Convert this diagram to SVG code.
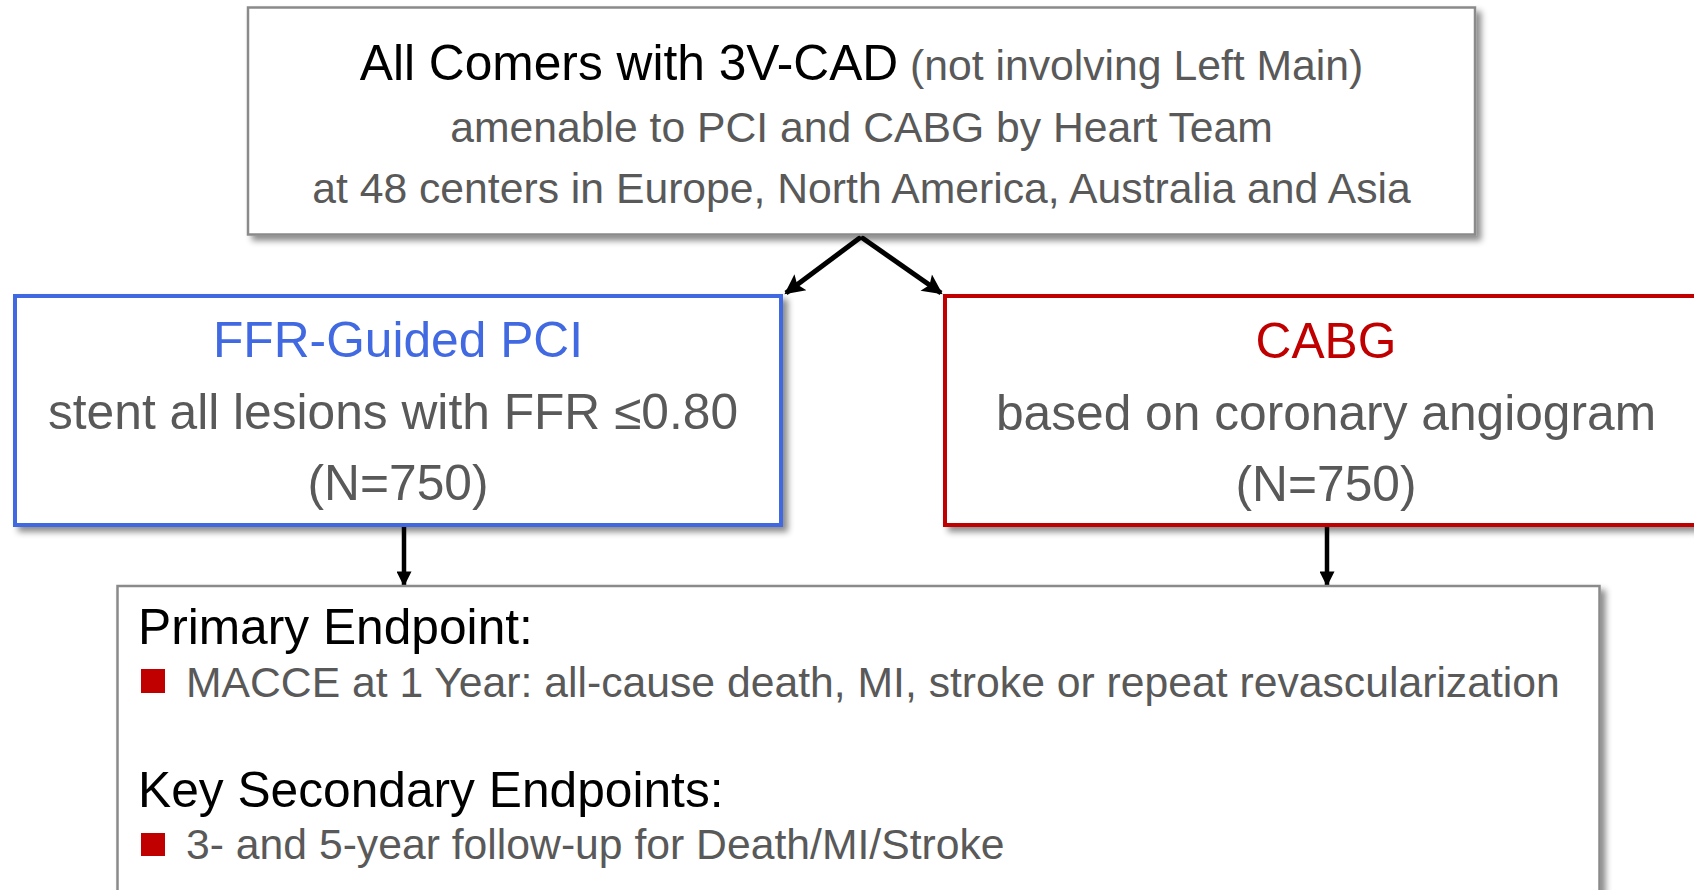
<svg xmlns="http://www.w3.org/2000/svg" width="1694" height="890" viewBox="0 0 1694 890">
  <defs>
    <filter id="shadow" x="-5%" y="-5%" width="115%" height="120%">
      <feDropShadow dx="5" dy="5" stdDeviation="3" flood-color="#000" flood-opacity="0.45"/>
    </filter>
    <marker id="arrow" viewBox="0 0 10 10" refX="9" refY="5" markerUnits="userSpaceOnUse" markerWidth="22" markerHeight="20" orient="auto">
      <path d="M0,0 L10,5 L0,10 L2,5 z" fill="#000"/>
    </marker>
    <marker id="arrowSmall" viewBox="0 0 10 10" refX="9" refY="5" markerUnits="userSpaceOnUse" markerWidth="18" markerHeight="15" orient="auto">
      <path d="M0,0 L10,5 L0,10 z" fill="#000"/>
    </marker>
  </defs>
  <style>
    text { font-family: "Liberation Sans", Arial, sans-serif; }
    .box { fill: #fff; filter: url(#shadow); }
    .gray { fill: #595959; }
    .black { fill: #000; }
    .mid { text-anchor: middle; }
    .conn { stroke: #000; fill: none; }
    .bullet { fill: #C00000; }
  </style>
  <rect width="1694" height="890" fill="#fff"/>

  <g id="connectors">
    <line class="conn" x1="861" y1="237" x2="786" y2="293" stroke-width="5" marker-end="url(#arrow)"/>
    <line class="conn" x1="861" y1="237" x2="941" y2="293" stroke-width="5" marker-end="url(#arrow)"/>
    <line class="conn" x1="404" y1="527" x2="404" y2="585" stroke-width="4.5" marker-end="url(#arrowSmall)"/>
    <line class="conn" x1="1327" y1="527" x2="1327" y2="585" stroke-width="4.5" marker-end="url(#arrowSmall)"/>
  </g>

  <g id="node-top">
    <rect class="box" x="248" y="7.5" width="1227" height="227" stroke="#8a8a8a" stroke-width="2.5"/>
    <text class="mid" x="861.5" y="80" font-size="49.7"><tspan class="black">All Comers with 3V-CAD</tspan><tspan class="gray" font-size="42.7"> (not involving Left Main)</tspan></text>
    <text class="mid gray" x="861.5" y="142" font-size="42.7">amenable to PCI and CABG by Heart Team</text>
    <text class="mid gray" x="861.5" y="203" font-size="42.7">at 48 centers in Europe, North America, Australia and Asia</text>
  </g>

  <g id="node-pci">
    <rect class="box" x="15" y="296" width="766" height="229" stroke="#4169E1" stroke-width="4"/>
    <text class="mid" x="398" y="357" font-size="49.7" fill="#4169E1">FFR-Guided PCI</text>
    <text class="mid gray" x="393" y="429" font-size="49.7">stent all lesions with FFR ≤0.80</text>
    <text class="mid gray" x="398" y="500" font-size="49.7">(N=750)</text>
  </g>

  <g id="node-cabg">
    <rect class="box" x="945" y="296" width="764" height="229" stroke="#C00000" stroke-width="4"/>
    <text class="mid" x="1326" y="358" font-size="49.7" fill="#C00000">CABG</text>
    <text class="mid gray" x="1326" y="430" font-size="49.7">based on coronary angiogram</text>
    <text class="mid gray" x="1326" y="501" font-size="49.7">(N=750)</text>
  </g>

  <g id="node-endpoints">
    <rect class="box" x="117.5" y="586" width="1482" height="320" stroke="#8a8a8a" stroke-width="2.5"/>
    <text class="black" x="138" y="644" font-size="49.7">Primary Endpoint:</text>
    <rect class="bullet" x="141" y="669" width="24" height="24"/>
    <text class="gray" x="186" y="697" font-size="42.7">MACCE at 1 Year: all-cause death, MI, stroke or repeat revascularization</text>
    <text class="black" x="138" y="807" font-size="49.7">Key Secondary Endpoints:</text>
    <rect class="bullet" x="141" y="833" width="24" height="23"/>
    <text class="gray" x="186" y="859" font-size="42.7">3- and 5-year follow-up for Death/MI/Stroke</text>
  </g>
</svg>
